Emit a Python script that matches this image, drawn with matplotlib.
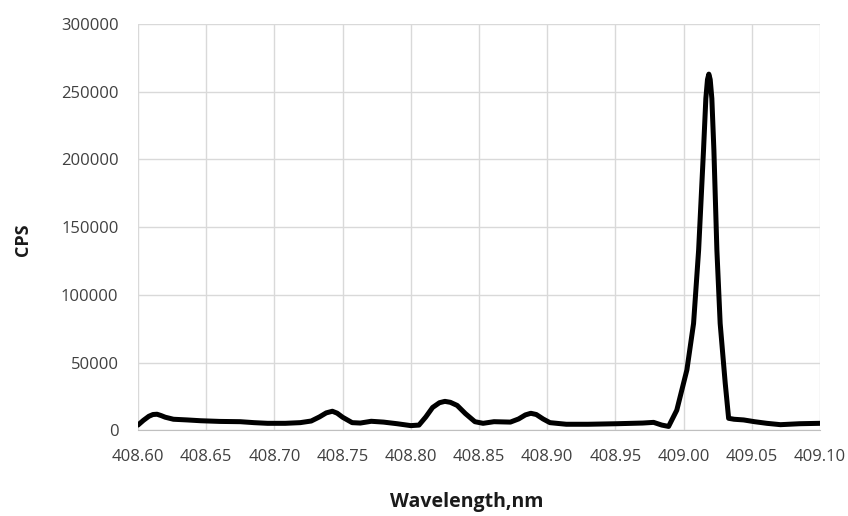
import matplotlib
matplotlib.use("Agg")
import matplotlib.pyplot as plt
from matplotlib.ticker import FormatStrFormatter

# Emission spectrum, counts per second vs wavelength
wavelength = [
    408.600, 408.604, 408.608, 408.611, 408.614, 408.617, 408.620, 408.626,
    408.636, 408.646, 408.660, 408.675, 408.685, 408.695, 408.708, 408.719,
    408.727, 408.733, 408.738, 408.7425, 408.746, 408.750, 408.757, 408.763,
    408.771, 408.780, 408.790, 408.800, 408.806, 408.811, 408.816, 408.821,
    408.825, 408.829, 408.834, 408.840, 408.847, 408.853, 408.861, 408.873,
    408.879, 408.884, 408.888, 408.892, 408.897, 408.902, 408.914, 408.930,
    408.951, 408.970, 408.978, 408.984, 408.989, 408.995, 409.0024, 409.0073,
    409.011, 409.0146, 409.0163, 409.0175, 409.0185, 409.0195, 409.0207,
    409.0222, 409.0244, 409.0268, 409.0305, 409.033, 409.037, 409.044,
    409.052, 409.061, 409.071, 409.085, 409.100,
]
cps = [
    4000, 7500, 10500, 11800, 12000, 11000, 9800, 8300,
    7800, 7200, 6700, 6500, 5800, 5300, 5300, 5800,
    7000, 10000, 13000, 14200, 12800, 9800, 5800, 5500,
    6800, 6200, 5000, 3600, 4000, 10000, 17000, 20500,
    21500, 20800, 18500, 12500, 6500, 5300, 6500, 6200,
    8500, 11500, 12700, 11800, 8500, 5800, 4600, 4600,
    5000, 5500, 6000, 4000, 3000, 15000, 44700, 79000,
    133000, 207000, 245000, 259000, 263000, 259000, 245000,
    207000, 133000, 79000, 35000, 9000, 8300, 7800,
    6500, 5300, 4300, 5000, 5300,
]

x_ticks = [408.60 + 0.05 * i for i in range(11)]
y_ticks = [0, 50000, 100000, 150000, 200000, 250000, 300000]

fig = plt.figure(figsize=(8.48, 5.16), dpi=100)
ax = fig.add_axes([0.1627, 0.1657, 0.8043, 0.7878])

ax.plot(wavelength, cps, color="black", lw=3.6,
        solid_joinstyle="round", solid_capstyle="round", zorder=3)

ax.set_xlim(408.60, 409.10)
ax.set_ylim(0, 300000)
ax.set_xticks(x_ticks)
ax.set_yticks(y_ticks)
ax.xaxis.set_major_formatter(FormatStrFormatter("%.2f"))

ax.grid(True, color="#d9d9d9", lw=1)
ax.set_axisbelow(True)
for side in ["top", "right", "left"]:
    ax.spines[side].set_visible(False)
ax.spines["bottom"].set_color("#bfbfbf")
ax.tick_params(length=0, labelsize=12, colors="#404040")
ax.tick_params(axis="y", pad=14)
ax.tick_params(axis="x", pad=13)
for lbl in ax.get_xticklabels() + ax.get_yticklabels():
    lbl.set_family("Open Sans")

ax.set_xlabel("Wavelength,nm", fontsize=14, fontweight="bold",
              family="Open Sans", color="#1a1a1a")
ax.xaxis.set_label_coords(0.482, -0.152)
ax.set_ylabel("CPS", fontsize=13, fontweight="bold",
              family="Open Sans", color="#1a1a1a")
ax.yaxis.set_label_coords(-0.155, 0.47)

fig.savefig("out.png", dpi=100)
